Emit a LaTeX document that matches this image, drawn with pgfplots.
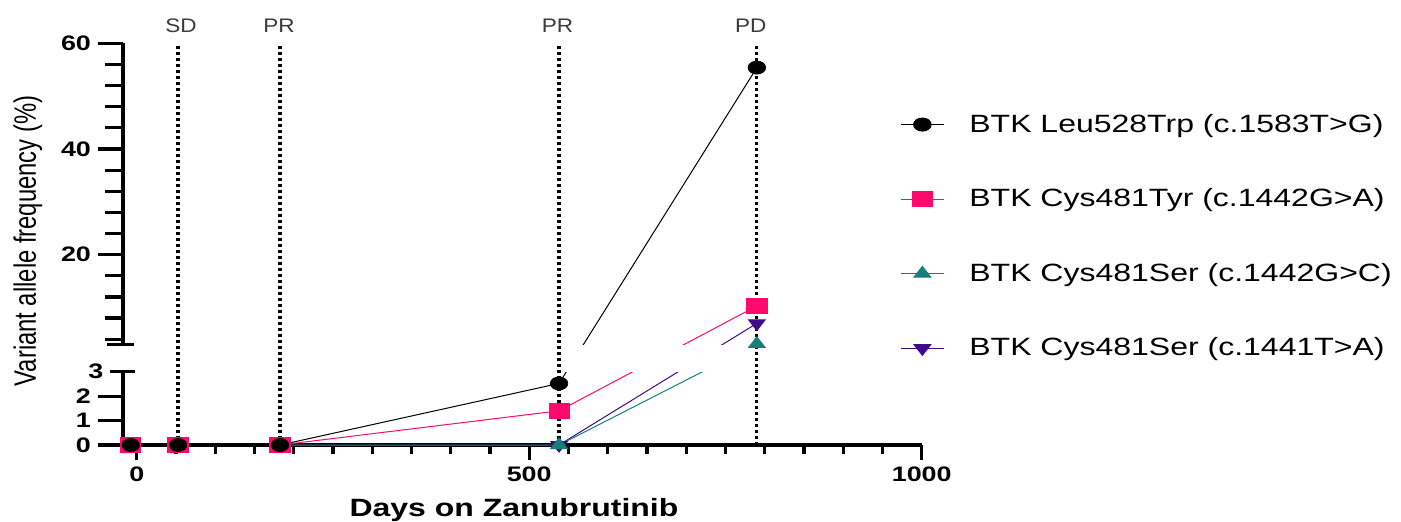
\documentclass[border=0pt]{standalone}
\usepackage{fontspec}
\setmainfont{Liberation Sans}[FakeStretch=1.28]
\newfontfamily\ylabfont{Liberation Sans}
\newfontfamily\annfont{Liberation Sans}[FakeStretch=1.15]
\usepackage{graphicx}
\usepackage{pgfplots}
\usepackage{pgfplotstable}
\pgfplotsset{compat=1.18}
\definecolor{cpink}{HTML}{FF0A6C}
\definecolor{cteal}{HTML}{15807A}
\definecolor{cpurp}{HTML}{3F0A85}
\definecolor{annot}{HTML}{3A3A3A}

\pgfplotstableread{
x y
-7.6 0
52.6 0
182.5 0
538 2.52
790 55.4
}\tblack
\pgfplotstableread{
x y
-7.6 0
52.6 0
182.5 0
538 1.4
790 10.3
}\tpink
\pgfplotstableread{
x y
-7.6 0
52.6 0
182.5 0
538 0
790 3.1
}\tteal
\pgfplotstableread{
x y
-7.6 0
52.6 0
182.5 0
538 0
790 7.0
}\tpurp

\pgfplotsset{
  common/.style={
    at={(0pt,0pt)}, anchor=south west,
    scale only axis, width=399.35pt, height=200.85pt,
    xmin=-17.5, xmax=1000, ymin=0, ymax=60,
    y coord trafo/.code={\pgfmathparse{(##1)<=3 ? 24.43*(##1) : 100.5+5.284*((##1)-3)}},
    y coord inv trafo/.code={\pgfmathparse{(##1)<=73.3 ? (##1)/24.43 : 3+((##1)-100.5)/5.284}},
    scaled y ticks=false,
    axis lines*=left,
    clip=false,
    tick align=outside,
    every tick/.style={line width=1.6pt, black},
    /pgf/number format/assume math mode=true,
    /pgf/number format/1000 sep={},
    ticklabel style={font=\bfseries\fontsize{10.5}{12}\selectfont},
  }
}

\begin{document}
\begin{tikzpicture}
\useasboundingbox (-61.5pt,-38pt) rectangle (639pt,222.5pt);
% x axis (drawn first, beneath the data)
\begin{axis}[
  common,
  x axis line style={line width=1.6pt},
  y axis line style={draw=none},
  ytick=\empty,
  xtick={0,500,1000}, minor x tick num=9,
  major tick length=7.5pt, minor tick length=4.5pt,
  every axis x label/.style={at={(axis description cs:0.4895,0)}, yshift=-35.85pt, anchor=base, font=\bfseries\fontsize{12.5}{15}\selectfont},
  xlabel={Days on Zanubrutinib},
]
\end{axis}
% data and broken y axis
\begin{axis}[
  common,
  x axis line style={draw=none},
  y axis line style={draw=none},
  xtick=\empty,
  ytick={0,1,2,20,40,60}, yticklabels={0,1,2,20,40,60},
  minor ytick={4,8,12,16,24,28,32,36,44,48,52,56},
  extra y ticks={3}, extra y tick labels={3},
  major tick length=12.5pt, minor tick length=9pt,
  extra y tick style={tick align=center},
  every axis y label/.style={at={(axis description cs:-0.119,0.508)}, rotate=90, anchor=center},
  ylabel={\scalebox{1}[1.3]{\ylabfont\fontsize{11.9}{14}\selectfont Variant allele frequency (\%)}},
  legend image code/.code={\draw[mark repeat=2,mark phase=2,#1] plot coordinates {(0pt,0pt) (10.75pt,0pt) (21.5pt,0pt)};},
  legend style={at={(axis description cs:0.9728,0.825)}, anchor=north west, draw=none, fill=none,
    inner sep=0pt, row sep=26.7pt, column sep=12.5pt, font=\fontsize{12.5}{15}\selectfont, nodes={inner sep=0pt}},
  legend cell align=left,
]
\addlegendimage{black, line width=0.5pt, mark=*, mark size=3.25pt, mark options={xscale=1.35}}
\addlegendentry{BTK Leu528Trp (c.1583T>G)}
\addlegendimage{cpink, line width=0.5pt, mark=square*, mark size=3.75pt, mark options={xscale=1.35, fill=cpink, draw=cpink}}
\addlegendentry{BTK Cys481Tyr (c.1442G>A)}
\addlegendimage{cteal, line width=0.5pt, mark=triangle*, mark size=3.6pt, mark options={xscale=1.35, fill=cteal, draw=cteal}}
\addlegendentry{BTK Cys481Ser (c.1442G>C)}
\addlegendimage{cpurp, line width=0.5pt, mark=triangle*, mark size=3.6pt, mark options={rotate=180, xscale=1.35, fill=cpurp, draw=cpurp}}
\addlegendentry{BTK Cys481Ser (c.1441T>A)}

% connecting lines
\addplot[cpurp, line width=0.5pt, no markers, forget plot, restrict x to domain=150:1000] table {\tpurp};
\addplot[cteal, line width=0.5pt, no markers, forget plot, restrict x to domain=150:1000] table {\tteal};
\addplot[cpink, line width=0.5pt, no markers, forget plot, restrict x to domain=150:1000] table {\tpink};
\addplot[black, line width=0.5pt, no markers, forget plot] table {\tblack};
% axis break gap
\fill[white] (axis cs:100,3) rectangle (axis cs:1000,3.0001);
% response markers
\addplot[black, line width=1.6pt, dash pattern=on 1.6pt off 1.4pt, forget plot] coordinates {(52.6,0) (52.6,60)};
\addplot[black, line width=1.6pt, dash pattern=on 1.6pt off 1.4pt, forget plot] coordinates {(182.5,0) (182.5,60)};
\addplot[black, line width=1.6pt, dash pattern=on 1.6pt off 1.4pt, forget plot] coordinates {(538,0) (538,60)};
\addplot[black, line width=1.6pt, dash pattern=on 1.6pt off 1.4pt, forget plot] coordinates {(790,0) (790,60)};
% markers
\addplot[only marks, mark=triangle*, mark size=3.6pt, mark options={rotate=180, xscale=1.35, fill=cpurp, draw=cpurp}, forget plot] table {\tpurp};
\addplot[only marks, mark=triangle*, mark size=3.6pt, mark options={xscale=1.35, fill=cteal, draw=cteal}, forget plot] table {\tteal};
\addplot[only marks, mark=square*, mark size=3.75pt, mark options={xscale=1.35, fill=cpink, draw=cpink}, forget plot] table {\tpink};
\addplot[only marks, mark=*, mark size=3.25pt, mark options={xscale=1.35, fill=black, draw=black}, forget plot] table {\tblack};
% broken y axis
\draw[line width=1.6pt] (axis cs:-17.5,0) -- (axis cs:-17.5,3);
\draw[line width=1.6pt] (axis cs:-17.5,3.0001) -- (axis cs:-17.5,60);
\draw[line width=1.6pt] ([xshift=-8pt]axis cs:-17.5,3.0001) -- ([xshift=5.5pt]axis cs:-17.5,3.0001);
% response labels
\node[font=\annfont\fontsize{9.8}{11}\selectfont, text=annot, anchor=base, yshift=5.4pt, xshift=1.5pt] at (axis cs:52.6,60) {SD};
\node[font=\annfont\fontsize{9.8}{11}\selectfont, text=annot, anchor=base, yshift=5.4pt, xshift=-0.5pt] at (axis cs:182.5,60) {PR};
\node[font=\annfont\fontsize{9.8}{11}\selectfont, text=annot, anchor=base, yshift=5.4pt, xshift=-0.75pt] at (axis cs:538,60) {PR};
\node[font=\annfont\fontsize{9.8}{11}\selectfont, text=annot, anchor=base, yshift=5.4pt, xshift=-3pt] at (axis cs:790,60) {PD};
\end{axis}
\end{tikzpicture}
\end{document}
